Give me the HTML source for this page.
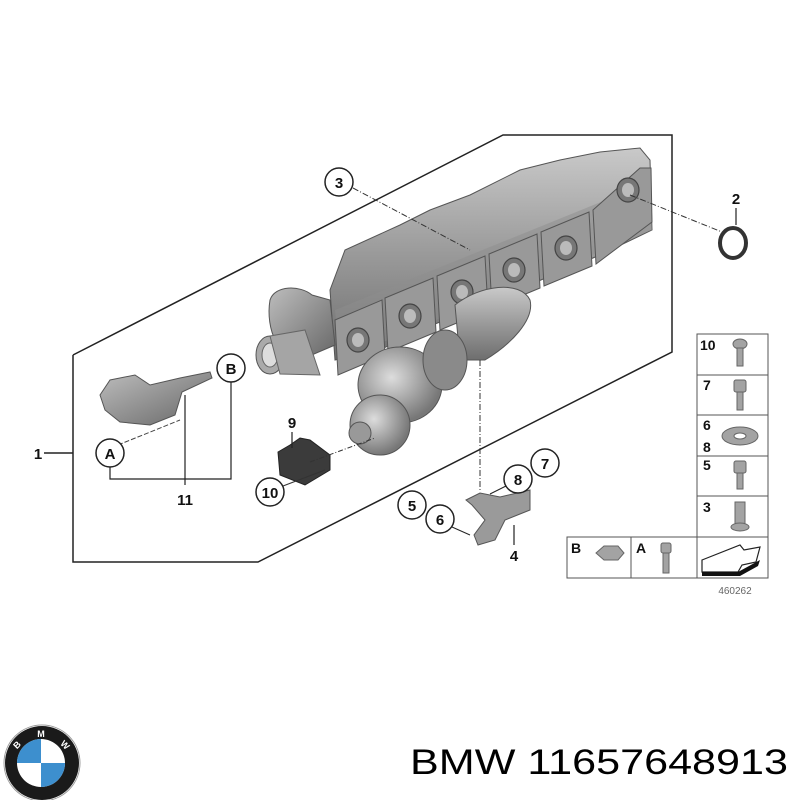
<!DOCTYPE html>
<html><head><meta charset="utf-8"><style>
html,body{margin:0;padding:0;background:#fff;width:800px;height:800px;overflow:hidden}
svg{display:block}
text{font-family:"Liberation Sans",sans-serif;font-weight:bold;fill:#111}
</style></head><body>
<svg width="800" height="800" viewBox="0 0 800 800" xmlns="http://www.w3.org/2000/svg">
<defs>
<linearGradient id="g1" x1="0" y1="0" x2="0" y2="1"><stop offset="0" stop-color="#c9c9c9"/><stop offset="0.5" stop-color="#9a9a9a"/><stop offset="1" stop-color="#6e6e6e"/></linearGradient>
<linearGradient id="g2" x1="0" y1="0" x2="1" y2="1"><stop offset="0" stop-color="#bdbdbd"/><stop offset="1" stop-color="#666"/></linearGradient>
<radialGradient id="rg" cx="0.4" cy="0.4" r="0.6"><stop offset="0" stop-color="#ddd"/><stop offset="1" stop-color="#777"/></radialGradient>
</defs>
<!-- outline -->
<polyline points="73,355 503,135 672,135 672,352 258,562 73,562 73,355" fill="none" stroke="#222" stroke-width="1.5"/>
<line x1="44" y1="453" x2="73" y2="453" stroke="#222" stroke-width="1.5"/>
<text x="38" y="459" font-size="15" text-anchor="middle">1</text>

<!-- manifold -->
<g>
<path d="M330,290 L345,250 L400,225 L430,210 L470,195 L520,170 L560,160 L600,152 L640,148 L650,160 L652,230 L600,255 L470,310 L420,330 L380,350 L335,360 Z" fill="url(#g1)" stroke="#555" stroke-width="1"/>
<path d="M335,310 L650,182 L652,230 L340,360 Z" fill="#8e8e8e" opacity="0.5"/>
<g fill="#999" stroke="#555" stroke-width="1">
<path d="M335,320 L382,300 L385,355 L338,375 Z"/>
<path d="M385,298 L433,278 L436,332 L388,352 Z"/>
<path d="M437,276 L485,256 L488,310 L440,330 Z"/>
<path d="M489,254 L537,234 L540,288 L492,308 Z"/>
<path d="M541,232 L589,212 L592,266 L544,286 Z"/>
<path d="M593,210 L640,168 L651,168 L652,222 L596,264 Z"/>
</g>
<g fill="#777" stroke="#444" stroke-width="1.2">
<ellipse cx="358" cy="340" rx="11" ry="12"/><ellipse cx="410" cy="316" rx="11" ry="12"/>
<ellipse cx="462" cy="292" rx="11" ry="12"/><ellipse cx="514" cy="270" rx="11" ry="12"/>
<ellipse cx="566" cy="248" rx="11" ry="12"/><ellipse cx="628" cy="190" rx="11" ry="12"/>
</g>
<g fill="#bbb"><ellipse cx="358" cy="340" rx="6" ry="7"/><ellipse cx="410" cy="316" rx="6" ry="7"/><ellipse cx="462" cy="292" rx="6" ry="7"/><ellipse cx="514" cy="270" rx="6" ry="7"/><ellipse cx="566" cy="248" rx="6" ry="7"/><ellipse cx="628" cy="190" rx="6" ry="7"/></g>
<!-- turbo -->
<path d="M270,300 C275,285 300,285 312,295 L330,300 L335,345 L300,360 C280,360 265,330 270,300Z" fill="url(#g2)" stroke="#555"/>
<ellipse cx="270" cy="355" rx="14" ry="19" fill="#aaa" stroke="#555"/>
<ellipse cx="270" cy="355" rx="8" ry="12" fill="#ddd" stroke="#666"/>
<path d="M270,336 L305,330 L320,375 L280,374Z" fill="#a5a5a5" stroke="#666"/>
<path d="M455,305 C480,285 520,280 530,300 C535,320 510,345 485,360 L460,360Z" fill="url(#g1)" stroke="#555"/>
<ellipse cx="400" cy="385" rx="42" ry="38" fill="url(#rg)" stroke="#555"/>
<ellipse cx="445" cy="360" rx="22" ry="30" fill="#8a8a8a" stroke="#555"/>
<ellipse cx="380" cy="425" rx="30" ry="30" fill="url(#rg)" stroke="#555"/>
<ellipse cx="360" cy="433" rx="11" ry="11" fill="#999" stroke="#555"/>
</g>
<!-- item 3 -->
<line x1="353" y1="188" x2="470" y2="250" stroke="#333" stroke-width="1" stroke-dasharray="6,2,1,2"/>
<circle cx="339" cy="182" r="14" fill="#fff" stroke="#222" stroke-width="1.5"/>
<text x="339" y="188" font-size="15" text-anchor="middle">3</text>
<!-- item 2 -->
<line x1="630" y1="195" x2="722" y2="232" stroke="#333" stroke-width="1" stroke-dasharray="6,2,1,2"/>
<text x="736" y="204" font-size="15" text-anchor="middle">2</text>
<line x1="736" y1="208" x2="736" y2="225" stroke="#222" stroke-width="1.2"/>
<ellipse cx="733" cy="243" rx="13" ry="15" fill="none" stroke="#333" stroke-width="4"/>
<!-- item 4 leader -->
<line x1="480" y1="360" x2="480" y2="490" stroke="#333" stroke-width="1" stroke-dasharray="6,2,1,2"/>
<!-- actuator 11 -->
<path d="M100,395 L110,380 L135,375 L150,385 L180,378 L210,372 L212,378 L182,392 L175,415 L150,425 L120,422 L105,410Z" fill="url(#g2)" stroke="#555"/>
<line x1="118" y1="445" x2="180" y2="420" stroke="#444" stroke-width="1" stroke-dasharray="5,2"/>
<circle cx="231" cy="368" r="14" fill="#fff" stroke="#222" stroke-width="1.5"/>
<text x="231" y="374" font-size="15" text-anchor="middle">B</text>
<circle cx="110" cy="453" r="14" fill="#fff" stroke="#222" stroke-width="1.5"/>
<text x="110" y="459" font-size="15" text-anchor="middle">A</text>
<polyline points="110,467 110,479 231,479 231,382" fill="none" stroke="#222" stroke-width="1.2"/>
<line x1="185" y1="395" x2="185" y2="485" stroke="#222" stroke-width="1.2"/>
<text x="185" y="505" font-size="15" text-anchor="middle">11</text>
<!-- item 9/10 -->
<path d="M278,452 L290,445 L300,438 L310,440 L330,455 L330,470 L305,485 L280,475Z" fill="#3b3b3b" stroke="#222"/>
<line x1="310" y1="462" x2="375" y2="438" stroke="#333" stroke-width="1" stroke-dasharray="5,2,1,2"/>
<text x="292" y="428" font-size="15" text-anchor="middle">9</text>
<line x1="292" y1="432" x2="292" y2="448" stroke="#222" stroke-width="1.2"/>
<line x1="283" y1="486" x2="325" y2="470" stroke="#333" stroke-width="1"/>
<circle cx="270" cy="492" r="14" fill="#fff" stroke="#222" stroke-width="1.5"/>
<text x="270" y="498" font-size="15" text-anchor="middle">10</text>
<!-- bracket 4 -->
<path d="M466,500 L480,493 L500,497 L530,490 L530,510 L505,520 L495,540 L478,545 L474,535 L485,520 L472,505Z" fill="#9a9a9a" stroke="#555"/>
<circle cx="412" cy="505" r="14" fill="#fff" stroke="#222" stroke-width="1.5"/>
<text x="412" y="511" font-size="15" text-anchor="middle">5</text>
<circle cx="440" cy="519" r="14" fill="#fff" stroke="#222" stroke-width="1.5"/>
<text x="440" y="525" font-size="15" text-anchor="middle">6</text>
<line x1="452" y1="527" x2="470" y2="535" stroke="#222" stroke-width="1"/>
<circle cx="518" cy="479" r="14" fill="#fff" stroke="#222" stroke-width="1.5"/>
<text x="518" y="485" font-size="15" text-anchor="middle">8</text>
<line x1="506" y1="486" x2="490" y2="494" stroke="#222" stroke-width="1"/>
<circle cx="545" cy="463" r="14" fill="#fff" stroke="#222" stroke-width="1.5"/>
<text x="545" y="469" font-size="15" text-anchor="middle">7</text>
<line x1="514" y1="525" x2="514" y2="545" stroke="#222" stroke-width="1.2"/>
<text x="514" y="561" font-size="15" text-anchor="middle">4</text>
<!-- parts table -->
<g fill="none" stroke="#555" stroke-width="1">
<rect x="697" y="334" width="71" height="244"/>
<line x1="697" y1="375" x2="768" y2="375"/><line x1="697" y1="415" x2="768" y2="415"/>
<line x1="697" y1="456" x2="768" y2="456"/><line x1="697" y1="496" x2="768" y2="496"/>
<line x1="697" y1="537" x2="768" y2="537"/>
<rect x="567" y="537" width="130" height="41"/><line x1="631" y1="537" x2="631" y2="578"/>
</g>
<g font-size="14">
<text x="700" y="350" font-size="14">10</text><text x="703" y="390">7</text>
<text x="703" y="430">6</text><text x="703" y="452">8</text>
<text x="703" y="470">5</text><text x="703" y="512">3</text>
<text x="571" y="553">B</text><text x="636" y="553">A</text>
</g>
<g fill="#a3a3a3" stroke="#666">
<ellipse cx="740" cy="344" rx="7" ry="5"/><rect x="737" y="348" width="6" height="18"/>
<rect x="734" y="380" width="12" height="12" rx="2"/><rect x="737" y="392" width="6" height="18"/>
<ellipse cx="740" cy="436" rx="18" ry="9"/><ellipse cx="740" cy="436" rx="6" ry="3" fill="#fff"/>
<rect x="734" y="461" width="12" height="12" rx="2"/><rect x="737" y="473" width="6" height="16"/>
<rect x="735" y="502" width="10" height="24"/><ellipse cx="740" cy="527" rx="9" ry="4"/>
<path d="M596,553 L604,546 L618,546 L624,553 L618,560 L604,560Z"/>
<rect x="661" y="543" width="10" height="10" rx="2"/><rect x="663" y="553" width="6" height="20"/>
</g>
<path d="M702,560 L740,545 L744,550 L760,547 L756,562 L742,565 L738,572 L702,572Z" fill="#fff" stroke="#222" stroke-width="1.2"/>
<path d="M702,572 L738,572 L760,560 L758,566 L740,576 L702,576Z" fill="#111"/>
<text x="735" y="594" font-size="10" text-anchor="middle" style="font-weight:normal;fill:#666">460262</text>
<!-- BMW logo -->
<circle cx="42" cy="763" r="37" fill="#1a1a1a"/>
<circle cx="42" cy="763" r="38" fill="none" stroke="#999" stroke-width="1"/>
<circle cx="41" cy="763" r="24" fill="#fff"/>
<path d="M41,763 L41,739 A24,24 0 0 0 17,763Z" fill="#3d8fce"/>
<path d="M41,763 L65,763 A24,24 0 0 1 41,787Z" fill="#3d8fce"/>
<text x="41" y="737" font-size="9" text-anchor="middle" style="fill:#fff">M</text>
<text x="17" y="748" font-size="9" text-anchor="middle" style="fill:#fff" transform="rotate(-45 17 745)">B</text>
<text x="65" y="748" font-size="9" text-anchor="middle" style="fill:#fff" transform="rotate(45 65 745)">W</text>
<text x="410" y="774" font-size="35" textLength="378" lengthAdjust="spacingAndGlyphs" style="font-weight:normal;fill:#000">BMW 11657648913</text>
</svg>
</body></html>
